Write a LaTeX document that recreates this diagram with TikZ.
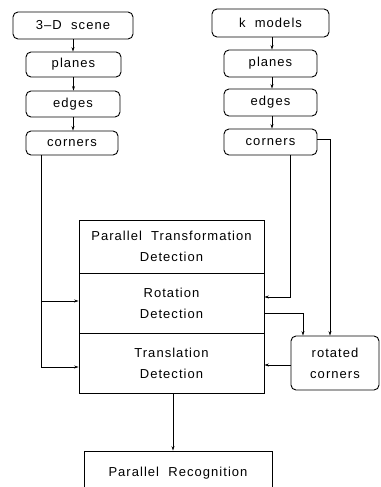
\documentclass[tikz,border=0pt]{standalone}
\usepackage{fontspec}
\setmainfont{Liberation Sans}[LetterSpace=8]
\usetikzlibrary{arrows.meta}
\tikzset{
  rbox/.style={draw, rounded corners=5pt, line width=0.9pt, inner sep=0pt, font=\fontsize{13}{15}\selectfont},
  sbox/.style={draw, line width=0.9pt, inner sep=0pt, align=center, font=\fontsize{13}{21}\selectfont},
  arr/.style={line width=0.8pt, -{Stealth[length=4.5pt,width=3pt]}},
  wire/.style={line width=0.8pt}
}
\begin{document}
\begin{tikzpicture}[x=1pt,y=-1pt]
\useasboundingbox (0,0) rectangle (380,487);
\clip (0,0) rectangle (380,487);
% left column: scene pipeline
\node[rbox, minimum width=120pt, minimum height=27pt] (scene) at (73,25.5) {3--D\ \ scene};
\node[rbox, minimum width=95pt, minimum height=25pt] (planesL) at (73.5,64.5) {planes};
\node[rbox, minimum width=94pt, minimum height=26pt] (edgesL) at (73,104) {edges};
\node[rbox, minimum width=92pt, minimum height=24pt] (cornersL) at (72,143) {corners};
% right column: model pipeline
\node[rbox, minimum width=117pt, minimum height=28pt] (models) at (270.5,23) {k\ \ models};
\node[rbox, minimum width=93pt, minimum height=27pt] (planesR) at (270.5,63.5) {planes};
\node[rbox, minimum width=93pt, minimum height=27pt] (edgesR) at (270.5,102.5) {edges};
\node[rbox, minimum width=93pt, minimum height=26pt] (cornersR) at (270.5,142) {corners};
% detection stack
\node[sbox, minimum width=185pt, minimum height=53pt] (ptd) at (171.5,246.5) {Parallel\ \ Transformation\\Detection};
\node[sbox, minimum width=185pt, minimum height=60pt] (rot) at (171.5,303) {Rotation\\Detection};
\node[sbox, minimum width=185pt, minimum height=60pt] (trans) at (171.5,363) {Translation\\Detection};
\node[rbox, align=center, font=\fontsize{13}{21}\selectfont, minimum width=88pt, minimum height=54pt] (rotc) at (335,363) {rotated\\corners};
\node[sbox, minimum width=188pt, minimum height=44pt] (recog) at (178,473) {Parallel\ \ Recognition};
% pipeline arrows
\draw[arr] (scene.south) -- (scene.south |- planesL.north);
\draw[arr] (planesL.south) -- (planesL.south |- edgesL.north);
\draw[arr] (edgesL.south) -- (edgesL.south |- cornersL.north);
\draw[arr] ([xshift=1.5pt]models.south) -- ([xshift=1.5pt]models.south |- planesR.north);
\draw[arr] ([xshift=1.5pt]planesR.south) -- ([xshift=1.5pt]planesR.south |- edgesR.north);
\draw[arr] ([xshift=1.5pt]edgesR.south) -- ([xshift=1.5pt]edgesR.south |- cornersR.north);
% scene corners into rotation and translation
\draw[arr] ([xshift=-31pt]cornersL.south) |- ([yshift=2pt]rot.west);
\draw[arr] ([xshift=-31pt]cornersL.south) |- ([yshift=-4pt]trans.west);
% model corners into rotation and rotated corners
\draw[arr] ([xshift=19.5pt]cornersR.south) |- ([yshift=6pt]rot.east);
\draw[arr] ([yshift=3pt]cornersR.east) -| ([xshift=-5pt]rotc.north);
\draw[arr] ([yshift=-10pt]rot.east) -| ([xshift=-32pt]rotc.north);
\draw[arr] ([yshift=-2pt]rotc.west) -- ([yshift=-2pt]rotc.west -| trans.east);
\draw[arr] ([xshift=1.5pt]trans.south) -- ([xshift=1.5pt]trans.south |- recog.north);
\end{tikzpicture}
\end{document}
